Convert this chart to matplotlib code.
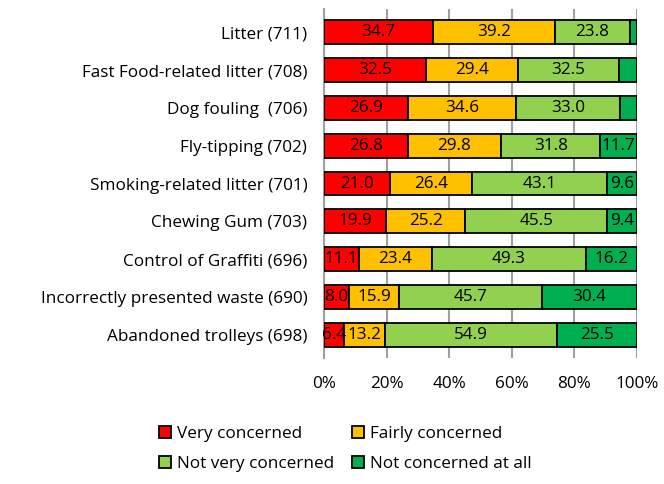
import numpy as np
import matplotlib
matplotlib.use("Agg")
import matplotlib.pyplot as plt
from matplotlib.patches import Patch

plt.rcParams['font.family'] = ['Open Sans', 'DejaVu Sans']

# datos
categorias = ['Litter (711)', 'Fast Food-related litter (708)', 'Dog fouling  (706)',
              'Fly-tipping (702)', 'Smoking-related litter (701)', 'Chewing Gum (703)',
              'Control of Graffiti (696)', 'Incorrectly presented waste (690)',
              'Abandoned trolleys (698)']
muy = [34.7, 32.5, 26.9, 26.8, 21.0, 19.9, 11.1, 8.0, 6.4]
bastante = [39.2, 29.4, 34.6, 29.8, 26.4, 25.2, 23.4, 15.9, 13.2]
poco = [23.8, 32.5, 33.0, 31.8, 43.1, 45.5, 49.3, 45.7, 54.9]
nada = [2.3, 5.6, 5.5, 11.7, 9.6, 9.4, 16.2, 30.4, 25.5]
series = ['Very concerned', 'Fairly concerned', 'Not very concerned', 'Not concerned at all']
colores = ['#FF0000', '#FFC000', '#92D050', '#00B050']

fs = 12.3

fig = plt.figure(figsize=(6.64, 4.84), dpi=100)
ax = fig.add_axes([0.488, 0.261, 0.471, 0.721])

y = np.arange(len(categorias))
izq = np.zeros(len(categorias))
for vals, col in zip([muy, bastante, poco, nada], colores):
    vals = np.array(vals)
    ax.barh(y, vals, left=izq, height=0.63, color=col, edgecolor='black', linewidth=1.3, zorder=3)
    for yi, l, v in zip(y, izq, vals):
        if v >= 6:
            ax.text(l + v / 2, yi, f'{v:.1f}', ha='center', va='center', fontsize=fs, zorder=4)
    izq += vals

ax.set_xlim(0, 100)
ax.set_ylim(8.6, -0.62)
ax.set_yticks(y)
ax.set_yticklabels(categorias, fontsize=fs)
ax.set_xticks(np.arange(0, 101, 20))
ax.set_xticklabels([f'{v}%' for v in range(0, 101, 20)], fontsize=fs)
ax.tick_params(axis='y', length=0, pad=12)
ax.tick_params(axis='x', length=0, pad=13)
ax.grid(axis='x', color='#A0A0A0', linewidth=1.5, zorder=0)
for s in ['top', 'right', 'bottom']:
    ax.spines[s].set_visible(False)
ax.spines['left'].set_color('#A0A0A0')
ax.spines['left'].set_linewidth(1.5)

# orden por filas en la leyenda
orden = [0, 2, 1, 3]
handles = [Patch(facecolor=colores[i], edgecolor='black', linewidth=1.3) for i in orden]
etiquetas = [series[i] for i in orden]
fig.legend(handles, etiquetas, loc='center', bbox_to_anchor=(0.52, 0.072), ncol=2,
           frameon=False, fontsize=fs, handlelength=0.7, handleheight=0.7,
           handletextpad=0.3, columnspacing=1.1, labelspacing=0.8)

fig.savefig('out.png', dpi=100)
